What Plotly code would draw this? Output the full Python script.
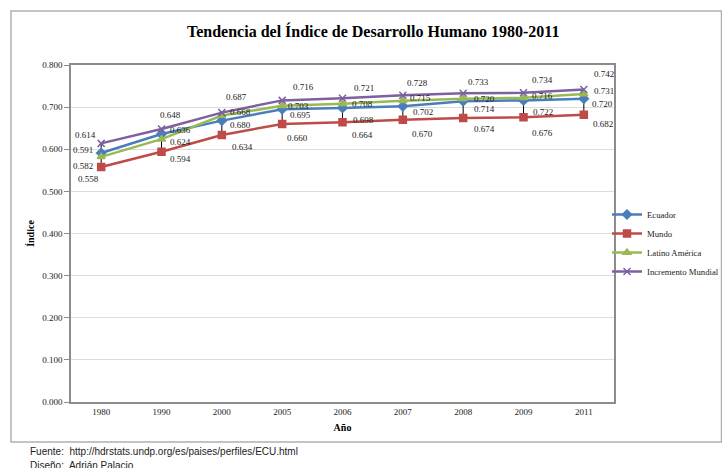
import plotly.graph_objects as go

# Human Development Index, 1980-2011
years = ["1980", "1990", "2000", "2005", "2006", "2007", "2008", "2009", "2011"]
ecuador = [0.591, 0.636, 0.668, 0.695, 0.698, 0.702, 0.714, 0.716, 0.720]
mundo = [0.558, 0.594, 0.634, 0.660, 0.664, 0.670, 0.674, 0.676, 0.682]
latino_america = [0.582, 0.624, 0.680, 0.703, 0.708, 0.715, 0.720, 0.722, 0.731]
incremento_mundial = [0.614, 0.648, 0.687, 0.716, 0.721, 0.728, 0.733, 0.734, 0.742]

# Pixel offsets of each value label from its marker
shift_ecuador = [(-18, -3), (19, -4), (19, -9), (18, 6), (21, 12), (20, 6), (21, 8), (19, -4), (19, 5)]
shift_mundo = [(-13, 12), (19, 7), (21, 12), (15, 14), (20, 13), (20, 14), (21, 11), (19, 16), (19, 9)]
shift_latino = [(-18, 9), (19, 3), (19, 9), (16, 0), (20, 0), (18, -3), (21, 0), (19, 14), (20, -3)]
shift_incremento = [(-16, -8), (9, -14), (15, -16), (21, -13), (21, -10), (15, -12), (15, -11), (19, -13), (20, -15)]

W, H = 722, 468
ML, MR, MT, MB = 71, 108, 65, 66
PW, PH = W - ML - MR, H - MT - MB

SERIF = "Liberation Serif, Times New Roman, serif"
SANS = "Liberation Sans, Arial, sans-serif"

series = [
    ("Ecuador", ecuador, "#4A7EBB", "diamond", 7, shift_ecuador),
    ("Mundo", mundo, "#BE4B48", "square", 7, shift_mundo),
    ("Latino América", latino_america, "#98B954", "triangle-up", 7, shift_latino),
    ("Incremento Mundial", incremento_mundial, "#7D60A0", "x-thin", 7, shift_incremento),
]

idx = list(range(len(years)))

fig = go.Figure()

# High-low lines joining the lowest and highest value of each year
all_vals = [ecuador, mundo, latino_america, incremento_mundial]
for i in idx:
    col = [s[i] for s in all_vals]
    fig.add_trace(go.Scatter(x=[i, i], y=[min(col), max(col)], mode="lines",
                             line=dict(color="black", width=1),
                             showlegend=False, hoverinfo="skip"))

for name, vals, color, symbol, size, shifts in series:
    fig.add_trace(go.Scatter(
        x=idx, y=vals, name=name, mode="lines+markers",
        line=dict(color=color, width=2.5),
        marker=dict(symbol=symbol, size=size, color=color,
                    line=dict(color=color, width=1.5)),
    ))
    for i, v, (dx, dy) in zip(idx, vals, shifts):
        fig.add_annotation(x=i, y=v, xref="x", yref="y",
                           text=f"{v:.3f}", showarrow=False,
                           xshift=dx, yshift=-dy,
                           font=dict(family=SERIF, size=9, color="#222"))

# Outer chart frame
def px_x(p):
    return (p - ML) / PW

def px_y(p):
    return (H - MB - p) / PH

fig.add_shape(type="rect", xref="paper", yref="paper",
              x0=px_x(11), x1=px_x(721.5), y0=px_y(442), y1=px_y(11),
              line=dict(color="#b0b0b0", width=1.5), layer="below")

fig.add_annotation(xref="paper", yref="paper", x=px_x(373), y=px_y(31),
                   text="<b>Tendencia del Índice de Desarrollo Humano 1980-2011</b>",
                   showarrow=False, xanchor="center", yanchor="middle",
                   font=dict(family=SERIF, size=16, color="black"))

fig.add_annotation(xref="paper", yref="paper", x=px_x(28), y=px_y(451.5),
                   text="Fuente:  http://hdrstats.undp.org/es/paises/perfiles/ECU.html",
                   showarrow=False, xanchor="left", yanchor="middle",
                   font=dict(family=SANS, size=10, color="#222"))
fig.add_annotation(xref="paper", yref="paper", x=px_x(28), y=px_y(465.5),
                   text="Diseño:  Adrián Palacio",
                   showarrow=False, xanchor="left", yanchor="middle",
                   font=dict(family=SANS, size=10, color="#222"))

fig.update_layout(
    width=W, height=H,
    margin=dict(l=ML, r=MR, t=MT, b=MB, autoexpand=False),
    paper_bgcolor="white", plot_bgcolor="white",
    font=dict(family=SERIF, size=9, color="#222"),
    legend=dict(x=px_x(607), xanchor="left", y=px_y(243), yanchor="middle",
                font=dict(family=SERIF, size=8.7, color="#222"),
                tracegroupgap=0, itemwidth=30, bgcolor="rgba(0,0,0,0)"),
    hovermode=False,
)

fig.update_xaxes(
    range=[-0.5, len(years) - 0.5], tickvals=idx, ticktext=years,
    showline=True, linecolor="#8c8c8c", linewidth=1.5,
    mirror=True, showgrid=False, zeroline=False, ticks="", ticklen=0,
    tickfont=dict(family=SERIF, size=9, color="#222"),
    title=dict(text="<b>Año</b>", font=dict(family=SERIF, size=10, color="black"),
               standoff=8),
)
fig.update_yaxes(
    range=[0, 0.8], dtick=0.1, tickformat=".3f",
    showline=True, linecolor="#8c8c8c", linewidth=1.5, mirror=True,
    showgrid=True, gridcolor="#dcdcdc", gridwidth=1, zeroline=False,
    ticks="outside", ticklen=5, tickcolor="#8c8c8c",
    tickfont=dict(family=SERIF, size=9, color="#222"),
    title=dict(text="<b>Índice</b>", font=dict(family=SERIF, size=10, color="black"),
               standoff=6),
)

fig.write_html("out.html")
